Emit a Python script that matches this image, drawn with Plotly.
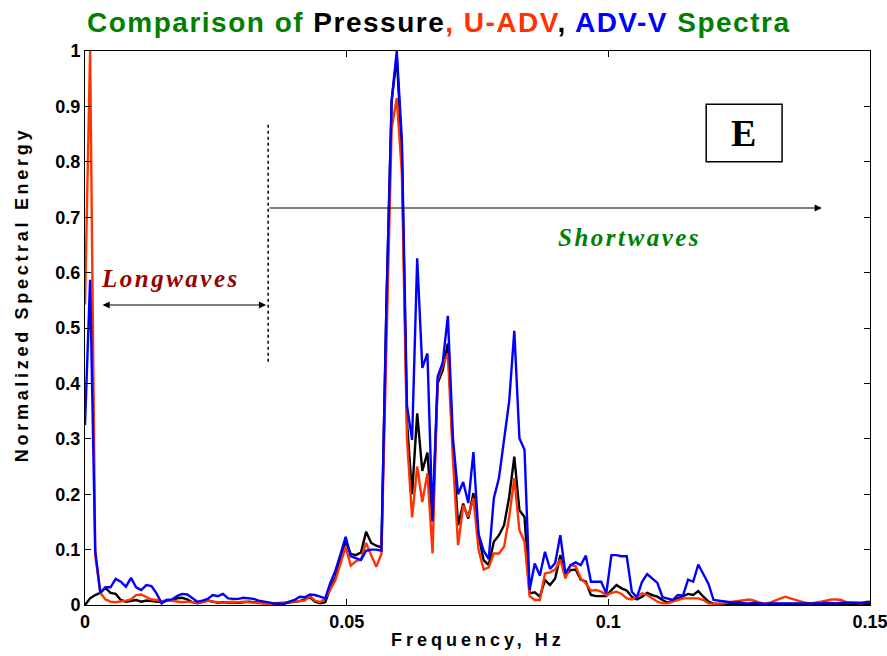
import plotly.graph_objects as go

# ---- data (normalized spectral energy, frequency bins of 1/1024 Hz) ----
pressure = [
    0.000, 0.012, 0.018, 0.022, 0.031, 0.022, 0.020, 0.009, 0.006, 0.008,
    0.009, 0.006, 0.008, 0.007, 0.006, 0.005, 0.008, 0.009, 0.012, 0.013,
    0.010, 0.005, 0.003, 0.006, 0.008, 0.006, 0.004, 0.005, 0.004, 0.005,
    0.004, 0.005, 0.006, 0.005, 0.004, 0.003, 0.003, 0.002, 0.002, 0.003,
    0.004, 0.005, 0.007, 0.010, 0.014, 0.006, 0.003, 0.005, 0.030, 0.050,
    0.082, 0.115, 0.092, 0.090, 0.095, 0.132, 0.112, 0.107, 0.104, 0.550,
    0.910, 0.990, 0.820, 0.330, 0.200, 0.346, 0.242, 0.275, 0.150, 0.400,
    0.424, 0.472, 0.286, 0.144, 0.183, 0.156, 0.202, 0.126, 0.081, 0.072,
    0.114, 0.126, 0.144, 0.195, 0.268, 0.171, 0.159, 0.021, 0.023, 0.015,
    0.045, 0.036, 0.048, 0.090, 0.054, 0.063, 0.064, 0.046, 0.042, 0.018,
    0.016, 0.016, 0.016, 0.027, 0.036, 0.030, 0.026, 0.015, 0.010, 0.015,
    0.022, 0.018, 0.015, 0.009, 0.004, 0.008, 0.012, 0.015, 0.020, 0.018,
    0.025, 0.015, 0.006, 0.002, 0.002, 0.002, 0.001, 0.002, 0.001, 0.001,
    0.002, 0.002, 0.001, 0.001, 0.002, 0.001, 0.001, 0.001, 0.002, 0.002,
    0.001, 0.001, 0.001, 0.002, 0.001, 0.001, 0.002, 0.002, 0.001, 0.001,
    0.001, 0.002, 0.002, 0.001, 0.002,
]
u_adv = [
    0.542, 1.000, 0.090, 0.022, 0.010, 0.006, 0.005, 0.006, 0.008, 0.010,
    0.018, 0.019, 0.015, 0.010, 0.009, 0.006, 0.009, 0.008, 0.006, 0.005,
    0.006, 0.005, 0.004, 0.005, 0.008, 0.006, 0.005, 0.004, 0.005, 0.006,
    0.005, 0.006, 0.005, 0.004, 0.003, 0.003, 0.002, 0.003, 0.004, 0.005,
    0.006, 0.006, 0.007, 0.008, 0.016, 0.008, 0.005, 0.012, 0.028, 0.045,
    0.075, 0.105, 0.071, 0.079, 0.082, 0.112, 0.090, 0.069, 0.092, 0.500,
    0.860, 0.915, 0.780, 0.300, 0.158, 0.250, 0.186, 0.238, 0.093, 0.406,
    0.433, 0.454, 0.260, 0.108, 0.180, 0.159, 0.193, 0.100, 0.064, 0.068,
    0.093, 0.093, 0.105, 0.159, 0.229, 0.135, 0.114, 0.016, 0.009, 0.009,
    0.057, 0.059, 0.064, 0.082, 0.048, 0.072, 0.070, 0.048, 0.039, 0.026,
    0.027, 0.024, 0.018, 0.022, 0.024, 0.020, 0.012, 0.010, 0.015, 0.021,
    0.018, 0.012, 0.006, 0.003, 0.003, 0.006, 0.009, 0.012, 0.012, 0.012,
    0.012, 0.009, 0.003, 0.002, 0.002, 0.003, 0.005, 0.006, 0.008, 0.009,
    0.010, 0.008, 0.004, 0.003, 0.004, 0.008, 0.012, 0.015, 0.012, 0.009,
    0.006, 0.004, 0.003, 0.004, 0.006, 0.008, 0.010, 0.010, 0.009, 0.005,
    0.004, 0.004, 0.003, 0.006, 0.006,
]
adv_v = [
    0.325, 0.587, 0.098, 0.022, 0.032, 0.032, 0.047, 0.042, 0.033, 0.049,
    0.032, 0.027, 0.036, 0.034, 0.021, 0.003, 0.009, 0.010, 0.016, 0.020,
    0.019, 0.012, 0.006, 0.008, 0.011, 0.018, 0.016, 0.020, 0.012, 0.011,
    0.011, 0.013, 0.012, 0.011, 0.008, 0.006, 0.004, 0.003, 0.003, 0.002,
    0.006, 0.009, 0.015, 0.014, 0.019, 0.018, 0.015, 0.012, 0.040, 0.062,
    0.092, 0.123, 0.088, 0.084, 0.081, 0.098, 0.100, 0.100, 0.098, 0.550,
    0.910, 1.000, 0.840, 0.360, 0.298, 0.626, 0.428, 0.454, 0.152, 0.412,
    0.438, 0.522, 0.300, 0.200, 0.222, 0.184, 0.276, 0.128, 0.098, 0.083,
    0.193, 0.229, 0.298, 0.368, 0.495, 0.301, 0.280, 0.027, 0.075, 0.053,
    0.096, 0.065, 0.076, 0.126, 0.057, 0.072, 0.077, 0.072, 0.089, 0.042,
    0.042, 0.042, 0.021, 0.090, 0.090, 0.088, 0.088, 0.024, 0.014, 0.042,
    0.056, 0.048, 0.040, 0.014, 0.012, 0.009, 0.018, 0.017, 0.046, 0.042,
    0.073, 0.055, 0.038, 0.009, 0.008, 0.006, 0.006, 0.004, 0.005, 0.003,
    0.003, 0.004, 0.003, 0.002, 0.003, 0.003, 0.002, 0.002, 0.003, 0.002,
    0.002, 0.003, 0.003, 0.002, 0.003, 0.004, 0.003, 0.003, 0.004, 0.004,
    0.003, 0.004, 0.004, 0.005, 0.005,
]
freq = [k / 1024 for k in range(len(adv_v))]

x_tickvals = [0, 0.05, 0.1, 0.15]
x_ticktext = ["0", "0.05", "0.1", "0.15"]
y_tickvals = [0, 0.1, 0.2, 0.3, 0.4, 0.5, 0.6, 0.7, 0.8, 0.9, 1.0]
y_ticktext = ["0", "0.1", "0.2", "0.3", "0.4", "0.5", "0.6", "0.7", "0.8", "0.9", "1"]

# ---- styles ----
SANS = "Liberation Sans, Arial, sans-serif"
SERIF = "Liberation Serif, Times New Roman, serif"
RED = "#ff3300"
BLUE = "#0000ff"
GREEN = "#008000"
DARKRED = "#990000"

fig = go.Figure()
fig.add_trace(go.Scatter(x=freq, y=pressure, mode="lines", name="Pressure",
                         line=dict(color="black", width=2.4)))
fig.add_trace(go.Scatter(x=freq, y=u_adv, mode="lines", name="U-ADV",
                         line=dict(color=RED, width=2.4)))
fig.add_trace(go.Scatter(x=freq, y=adv_v, mode="lines", name="ADV-V",
                         line=dict(color=BLUE, width=2.4)))

axis_common = dict(showgrid=False, zeroline=False, showline=True, linecolor="black",
                   linewidth=1, mirror="ticks", ticks="inside", ticklen=6,
                   tickcolor="black", tickwidth=1, ticklabeloverflow="allow",
                   automargin=False,
                   tickfont=dict(family=SANS, size=18, color="black", weight="bold"))
fig.update_xaxes(range=[0, 0.15], tickvals=x_tickvals, ticktext=x_ticktext, **axis_common)
fig.update_yaxes(range=[0, 1], tickvals=y_tickvals, ticktext=y_ticktext, **axis_common)

def ls(txt, color, spacing):
    return f"<span style='letter-spacing:{spacing}px;fill:{color}'>{txt}</span>"

title_html = (ls("Comparison of ", GREEN, 1.5) + ls("Pressure", "black", 1.5) +
              ls(", U-ADV", RED, 1.5) + ls(", ", "black", 1.5) +
              ls("ADV-V", BLUE, 1.5) + ls(" Spectra", GREEN, 1.5))

annotations = [
    dict(text=title_html, xref="paper", yref="paper", x=0.4497, y=1.0523,
         showarrow=False, xanchor="center", yanchor="middle",
         font=dict(family=SANS, size=28, color=GREEN, weight="bold")),
    dict(text=ls("Frequency, Hz", "black", 4.0), xref="paper", yref="paper", x=0.5006, y=-0.0632,
         showarrow=False, xanchor="center", yanchor="middle",
         font=dict(family=SANS, size=18, color="black", weight="bold")),
    dict(text=ls("Normalized Spectral Energy", "black", 3.7), xref="paper", yref="paper",
         x=-0.0803, y=0.561, textangle=-90, showarrow=False,
         xanchor="center", yanchor="middle",
         font=dict(family=SANS, size=18, color="black", weight="bold")),
    dict(text=ls("Longwaves", DARKRED, 2.5), x=0.01643, y=0.590, xref="x", yref="y",
         showarrow=False, xanchor="center", yanchor="middle",
         font=dict(family=SERIF, size=25, color=DARKRED, weight="bold", style="italic")),
    dict(text=ls("Shortwaves", GREEN, 2.5), x=0.1040, y=0.6625, xref="x", yref="y",
         showarrow=False, xanchor="center", yanchor="middle",
         font=dict(family=SERIF, size=25, color=GREEN, weight="bold", style="italic")),
    dict(text="E", x=0.1259, y=0.852, xref="x", yref="y", showarrow=False,
         xanchor="center", yanchor="middle",
         font=dict(family=SERIF, size=38, color="black", weight="bold")),
    # longwave double arrow
    dict(text="", x=0.0346, y=0.5415, ax=0.00306, ay=0.5415, xref="x", yref="y",
         axref="x", ayref="y", showarrow=True, arrowhead=2, startarrowhead=2,
         arrowside="end+start", arrowsize=1.2, arrowwidth=1.2, arrowcolor="black"),
    # shortwave arrow
    dict(text="", x=0.1408, y=0.7166, ax=0.035, ay=0.7166, xref="x", yref="y",
         axref="x", ayref="y", showarrow=True, arrowhead=2, arrowsize=1.2,
         arrowwidth=1.2, arrowcolor="black"),
]

shapes = [
    dict(type="line", x0=0.035, x1=0.035, y0=0.439, y1=0.87, xref="x", yref="y",
         line=dict(color="black", width=1.5, dash="dot")),
    dict(type="rect", x0=0.1187, x1=0.1332, y0=0.80, y1=0.904, xref="x", yref="y",
         line=dict(color="black", width=1.5), fillcolor="white", layer="below"),
]

fig.update_layout(
    width=887, height=656,
    margin=dict(l=85, r=17, t=51, b=51, autoexpand=False),
    paper_bgcolor="white", plot_bgcolor="white",
    showlegend=False,
    annotations=annotations, shapes=shapes,
)

fig.write_html("out.html")
